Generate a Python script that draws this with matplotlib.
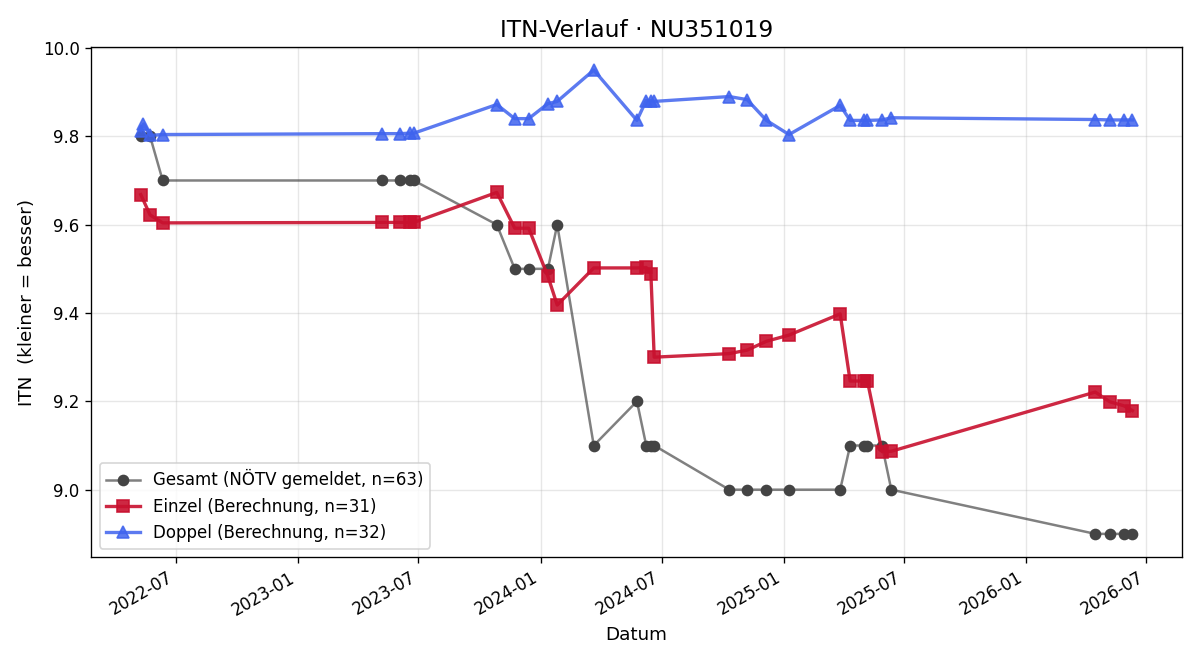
import matplotlib
matplotlib.use("Agg")
import matplotlib.pyplot as plt
import matplotlib.dates as mdates
import pandas as pd

# Termine (gemeinsam für Gesamt und Einzel)
dates_main = ["2022-05-09", "2022-05-23", "2022-06-11",
              "2023-05-07", "2023-06-03", "2023-06-18", "2023-06-24",
              "2023-10-27", "2023-11-23", "2023-12-14", "2024-01-12", "2024-01-26",
              "2024-03-21", "2024-05-25", "2024-06-08", "2024-06-15", "2024-06-20",
              "2024-10-11", "2024-11-07", "2024-12-06", "2025-01-09",
              "2025-03-27", "2025-04-11", "2025-05-02", "2025-05-07",
              "2025-05-29", "2025-06-12",
              "2026-04-15", "2026-05-07", "2026-05-28", "2026-06-10"]

gesamt = [9.8, 9.8, 9.7,
          9.7, 9.7, 9.7, 9.7,
          9.6, 9.5, 9.5, 9.5, 9.6,
          9.1, 9.2, 9.1, 9.1, 9.1,
          9.0, 9.0, 9.0, 9.0,
          9.0, 9.1, 9.1, 9.1,
          9.1, 9.0,
          8.9, 8.9, 8.9, 8.9]

einzel = [9.668, 9.622, 9.604,
          9.605, 9.605, 9.605, 9.605,
          9.673, 9.592, 9.592, 9.483, 9.418,
          9.502, 9.502, 9.503, 9.489, 9.300,
          9.308, 9.316, 9.336, 9.350,
          9.398, 9.246, 9.246, 9.246,
          9.086, 9.087,
          9.221, 9.199, 9.190, 9.179]

# Doppel hat einen zusätzlichen Termin am Anfang
dates_doppel = ["2022-05-09", "2022-05-13", "2022-05-23", "2022-06-11",
                "2023-05-07", "2023-06-03", "2023-06-18", "2023-06-24",
                "2023-10-27", "2023-11-23", "2023-12-14", "2024-01-12", "2024-01-26",
                "2024-03-21", "2024-05-25", "2024-06-08", "2024-06-15", "2024-06-20",
                "2024-10-11", "2024-11-07", "2024-12-06", "2025-01-09",
                "2025-03-27", "2025-04-11", "2025-05-02", "2025-05-07",
                "2025-05-29", "2025-06-12",
                "2026-04-15", "2026-05-07", "2026-05-28", "2026-06-10"]

doppel = [9.813, 9.828, 9.802, 9.804,
          9.806, 9.806, 9.807, 9.807,
          9.872, 9.840, 9.840, 9.874, 9.879,
          9.950, 9.836, 9.881, 9.881, 9.879,
          9.890, 9.883, 9.836, 9.804,
          9.870, 9.836, 9.836, 9.836,
          9.837, 9.842,
          9.838, 9.837, 9.837, 9.837]

x_main = pd.to_datetime(dates_main)
x_doppel = pd.to_datetime(dates_doppel)

fig, ax = plt.subplots(figsize=(10, 5.5), dpi=120)

# Linie halbtransparent, Punkte dunkel
ax.plot(x_main, gesamt, marker='o', ms=6, lw=1.5, color=(0.2, 0.2, 0.2, 0.62),
        mfc='#444444', mec='#444444',
        label=f'Gesamt (NÖTV gemeldet, n={len(einzel) + len(doppel)})')
ax.plot(x_main, einzel, marker='s', ms=7, lw=2, color='#C8102E', alpha=0.9,
        label=f'Einzel (Berechnung, n={len(einzel)})')
ax.plot(x_doppel, doppel, marker='^', ms=7, lw=2, color='#3F63EE', alpha=0.85,
        label=f'Doppel (Berechnung, n={len(doppel)})')

ax.set_title('ITN-Verlauf · NU351019', fontsize=14)
ax.set_xlabel('Datum', fontsize=11)
ax.set_ylabel('ITN  (kleiner = besser)', fontsize=11)
ax.grid(True, alpha=0.3)
ax.legend(loc='lower left')

ax.xaxis.set_major_locator(mdates.MonthLocator(bymonth=[1, 7]))
ax.xaxis.set_major_formatter(mdates.DateFormatter('%Y-%m'))
fig.autofmt_xdate()

fig.subplots_adjust(left=0.076, right=0.985, top=0.929, bottom=0.156)
fig.savefig('out.png')
